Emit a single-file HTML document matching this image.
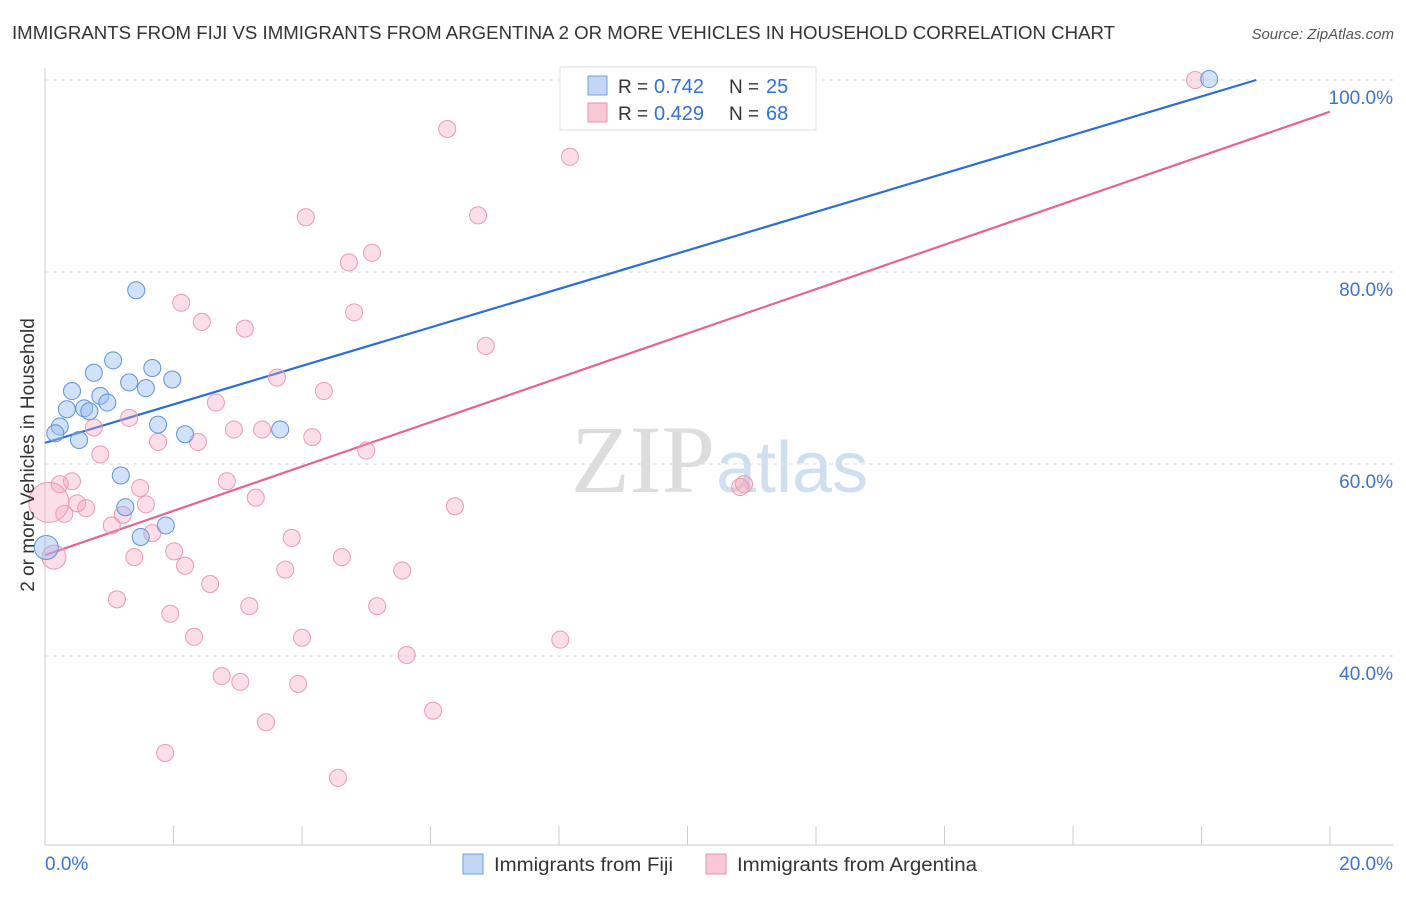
<!DOCTYPE html>
<html><head><meta charset="utf-8"><style>
body{margin:0;background:#fff;font-family:"Liberation Sans",sans-serif;}
</style></head><body>
<svg id="chart" width="1406" height="892" xmlns="http://www.w3.org/2000/svg" font-family="Liberation Sans, sans-serif">
<text x="12" y="39" font-size="18" fill="#333" textLength="1103" lengthAdjust="spacingAndGlyphs">IMMIGRANTS FROM FIJI VS IMMIGRANTS FROM ARGENTINA 2 OR MORE VEHICLES IN HOUSEHOLD CORRELATION CHART</text>
<text x="1394" y="39" font-size="15" fill="#555" font-style="italic" text-anchor="end">Source: ZipAtlas.com</text>
<text x="715" y="492" font-size="96" fill="#ddd" text-anchor="end" font-family="Liberation Serif, serif">ZIP</text>
<text x="716" y="492" font-size="72" fill="#cfdff0">atlas</text>
<g id="grid"></g><g id="axes"></g><g id="lines"></g><g id="pts"></g>
<text x="34" y="455" font-size="19" fill="#333" text-anchor="middle" transform="rotate(-90 34 455)">2 or more Vehicles in Household</text>
<g>
<rect x="560" y="67" width="256" height="63" fill="#fff" stroke="#ddd"/>
<rect x="588" y="76" width="19" height="19" fill="#c2d6f5" stroke="#6f9fe0"/>
<text x="618" y="93" font-size="19" fill="#333">R =</text>
<text x="654" y="93" font-size="20" fill="#3070d8">0.742</text>
<text x="729" y="93" font-size="19" fill="#333">N =</text>
<text x="766" y="93" font-size="20" fill="#3070d8">25</text>
<rect x="588" y="103" width="19" height="19" fill="#f8c8d6" stroke="#e891ab"/>
<text x="618" y="120" font-size="19" fill="#333">R =</text>
<text x="654" y="120" font-size="20" fill="#3070d8">0.429</text>
<text x="729" y="120" font-size="19" fill="#333">N =</text>
<text x="766" y="120" font-size="20" fill="#3070d8">68</text>
</g>
<g>
<rect x="463" y="854" width="20" height="20" fill="#c2d6f5" stroke="#6f9fe0"/>
<text x="494" y="871" font-size="19" fill="#333" textLength="179" lengthAdjust="spacingAndGlyphs">Immigrants from Fiji</text>
<rect x="706" y="854" width="20" height="20" fill="#f8c8d6" stroke="#e891ab"/>
<text x="737" y="871" font-size="19" fill="#333" textLength="240" lengthAdjust="spacingAndGlyphs">Immigrants from Argentina</text>
</g>
</svg>
<script>
const fijiX=[1.42,1.06,1.67,0.76,1.31,1.98,1.57,0.42,0.86,0.97,0.34,0.61,0.69,0.23,0.16,0.53,1.76,2.18,3.66,1.18,1.25,1.88,1.49,0.02,18.12];
const fijiY=[78.1,70.8,70.0,69.5,68.5,68.8,67.9,67.6,67.1,66.4,65.7,65.8,65.5,63.9,63.2,62.5,64.1,63.1,63.6,58.8,55.5,53.6,52.4,51.3,100.1];
const argX=[6.26,8.17,4.06,6.74,5.09,4.73,2.12,4.81,2.44,3.11,6.86,3.61,4.34,2.66,1.31,0.76,2.94,3.38,4.16,1.76,2.38,5.00,0.86,2.83,0.42,0.23,10.82,10.88,1.48,3.28,6.38,0.50,0.64,1.57,0.30,1.21,1.04,1.67,3.84,0.06,0.14,1.39,2.01,4.62,2.18,3.74,5.56,2.57,1.12,1.95,3.18,5.17,2.32,4.00,8.02,5.63,2.75,3.04,3.94,6.04,3.44,1.87,4.56,17.90];
const argY=[94.9,92.0,85.7,85.9,82.0,81.0,76.8,75.8,74.8,74.1,72.3,69.0,67.6,66.4,64.8,63.8,63.6,63.6,62.8,62.3,62.3,61.4,61.0,58.2,58.2,57.9,57.6,57.9,57.5,56.5,55.6,55.9,55.4,55.8,54.8,54.7,53.6,52.8,52.3,56.0,50.3,50.3,50.9,50.3,49.4,49.0,48.9,47.5,45.9,44.4,45.2,45.2,42.0,41.9,41.7,40.1,37.9,37.3,37.1,34.3,33.1,29.9,27.3,100.0];
const fijiLine=[62.2,102.3];
const argLine=[50.5,96.7];
const yTicks=[40,60,80,100];
const xTicks=[0,20];
const NS="http://www.w3.org/2000/svg";
const X=v=>45+v*64.25, Y=v=>80+(100-v)*9.6;
function mk(t,a,p){const e=document.createElementNS(NS,t);for(const k in a)e.setAttribute(k,a[k]);p.appendChild(e);return e;}
const grid=document.getElementById('grid'),axes=document.getElementById('axes');
yTicks.forEach(t=>{const l=mk('line',{x1:45,x2:1393,y1:Y(t),y2:Y(t),stroke:'#ddd','stroke-dasharray':'4,4'},grid);


const tx=mk('text',{x:1393,y:Y(t)+24,'font-size':19,fill:'#3a73d6','text-anchor':'end'},axes);tx.textContent=t.toFixed(1)+'%';

});
mk('line',{x1:45,x2:45,y1:68,y2:845,stroke:'#ccc'},axes);
mk('line',{x1:45,x2:1393,y1:845,y2:845,stroke:'#ccc'},axes);
for(let i=1;i<=10;i++){mk('line',{x1:X(i*2),x2:X(i*2),y1:826,y2:845,stroke:'#ccc'},axes);}
xTicks.forEach((t,i)=>{const tx=mk('text',{x:i?1393:45,y:870,'font-size':19,fill:'#3a73d6','text-anchor':i?'end':'start'},axes);tx.textContent=t.toFixed(1)+'%';

});
const lines=document.getElementById('lines');
function endX(l){const s=(l[1]-l[0])/20;return l[1]>100?(100-l[0])/s:20;}
function lineY(l,x){return l[0]+(l[1]-l[0])*x/20;}
const fe=endX(fijiLine);
const fl=mk('line',{x1:X(0),y1:Y(fijiLine[0]),x2:X(fe),y2:Y(lineY(fijiLine,fe)),stroke:'#2b6fd6','stroke-width':2.2},lines);


const ae=endX(argLine);
const al=mk('line',{x1:X(0),y1:Y(argLine[0]),x2:X(ae),y2:Y(lineY(argLine,ae)),stroke:'#e8638d','stroke-width':2.2},lines);


const pts=document.getElementById('pts');
argX.forEach((x,i)=>{const r=i==39?20:(i==40?12:8.5);const c=mk('circle',{cx:X(x),cy:Y(argY[i]),r:r,fill:'rgba(244,160,186,0.35)',stroke:'#eb9ab3','stroke-width':1},pts);

});
fijiX.forEach((x,i)=>{const r=i==23?12:8.5;const c=mk('circle',{cx:X(x),cy:Y(fijiY[i]),r:r,fill:'rgba(150,188,240,0.45)',stroke:'#5d93dc','stroke-width':1},pts);

});
</script>
</body></html>
